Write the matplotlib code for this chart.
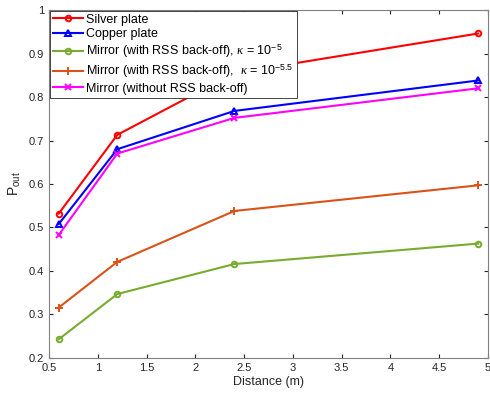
import numpy as np
import matplotlib.pyplot as plt

plt.rcParams['font.family'] = ['Liberation Sans', 'DejaVu Sans']
plt.rcParams['mathtext.fontset'] = 'custom'
plt.rcParams['mathtext.rm'] = 'Liberation Sans'
plt.rcParams['mathtext.it'] = 'Liberation Serif:italic'

distance = [0.6, 1.2, 2.4, 4.9]
silver = [0.532, 0.713, 0.855, 0.946]
copper = [0.508, 0.680, 0.768, 0.838]
mirror_k5 = [0.243, 0.347, 0.416, 0.463]
mirror_k55 = [0.316, 0.421, 0.538, 0.597]
mirror_no = [0.483, 0.670, 0.752, 0.820]

labels = ['Silver plate', 'Copper plate',
          r'Mirror (with RSS back-off), $\kappa$ = 10$^{\mathrm{-5}}$',
          r'Mirror (with RSS back-off),  $\kappa$ = 10$^{\mathrm{-5.5}}$',
          'Mirror (without RSS back-off)']

fig = plt.figure(figsize=(4.9, 3.94), dpi=100)
ax = fig.add_axes([0.1, 0.0914, 0.896, 0.8832])

ax.plot(distance, silver, color='r', marker='o', ms=4, mfc='none', mew=1.4, lw=1.5, label=labels[0])
ax.plot(distance, copper, color='b', marker='^', ms=4.5, mfc='none', mew=1.4, lw=1.5, label=labels[1])
ax.plot(distance, mirror_k5, color=(0.466, 0.674, 0.188), marker='o', ms=4, mfc='none', mew=1.4, lw=1.5, label=labels[2])
ax.plot(distance, mirror_k55, color=(0.85, 0.325, 0.098), marker='+', ms=6, mew=1.4, lw=1.5, label=labels[3])
ax.plot(distance, mirror_no, color='#ff00ff', marker='x', ms=4, mew=1.4, lw=1.5, label=labels[4])

ax.set_xlim(0.5, 5)
ax.set_ylim(0.2, 1)
ax.set_xticks(np.arange(0.5, 5.01, 0.5))
ax.set_xticklabels(['0.5', '1', '1.5', '2', '2.5', '3', '3.5', '4', '4.5', '5'])
ax.set_yticks(np.arange(0.2, 1.01, 0.1))
ax.set_yticklabels(['0.2', '0.3', '0.4', '0.5', '0.6', '0.7', '0.8', '0.9', '1'])
ax.tick_params(direction='in', top=True, right=True, labelsize=8, colors='#262626', length=3)
for s in ax.spines.values():
    s.set_color('#808080')
    s.set_linewidth(0.8)

ax.set_xlabel('Distance (m)', fontsize=9, color='#262626', labelpad=2)
ax.set_ylabel(r'P$_{\mathrm{out}}$', fontsize=10, color='#262626', labelpad=4)

leg = ax.legend(loc='upper left', fontsize=9, frameon=True, fancybox=False,
                framealpha=1, borderaxespad=0.05, handlelength=2.4,
                labelspacing=0.2, borderpad=0.25, handletextpad=0.3)
leg.get_frame().set_edgecolor('#262626')
leg.get_frame().set_linewidth(0.6)
leg.set_zorder(5)

fig.savefig('out.png', dpi=100)
